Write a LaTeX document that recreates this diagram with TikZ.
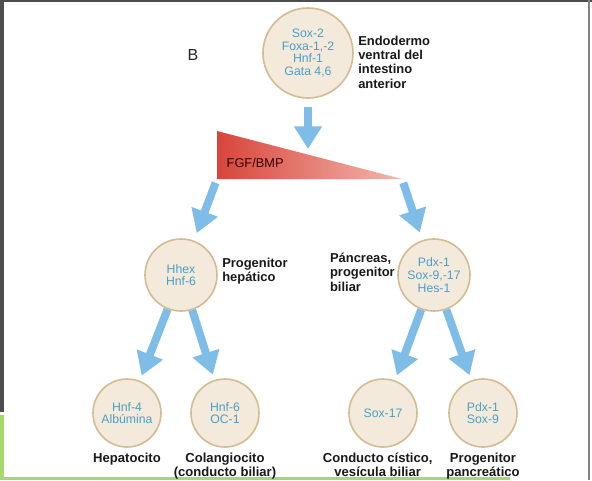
\documentclass[tikz,border=0pt]{standalone}
\usepackage{fontspec}
\setmainfont{Liberation Sans}
\usetikzlibrary{arrows.meta,positioning}
\definecolor{cellfill}{HTML}{F4EADB}
\definecolor{celledge}{HTML}{D3BB92}
\definecolor{genetext}{HTML}{4A9FC8}
\definecolor{arrowblue}{HTML}{7DBDE8}
\definecolor{gradred}{HTML}{D8453B}
\definecolor{gradpink}{HTML}{F3B8AE}
\definecolor{framegray}{HTML}{4E4E4E}
\definecolor{framegreen}{HTML}{A6D86A}
\begin{document}
\begin{tikzpicture}[x=0.75pt,y=-0.75pt,
    cell/.style={circle,draw=celledge,fill=cellfill,line width=1.2pt,inner sep=0pt,
      align=center,text=genetext,font=\fontsize{9.2}{9.5}\selectfont},
    stage/.style={align=left,inner sep=0pt,text=black!90,font=\bfseries\fontsize{9.7}{10.8}\selectfont},
    fate/.style={align=center,inner sep=0pt,text=black!90,font=\bfseries\fontsize{9.8}{10.4}\selectfont},
    flow/.style={draw=arrowblue,line width=6pt,-{Triangle[length=17pt,width=20pt]}}]
  \useasboundingbox (0,0) rectangle (592,480);
  \fill[white] (0,0) rectangle (592,480);
  %% Screen edges
  \fill[framegray] (0,0) rectangle (4,412);
  \fill[framegray] (0,0) rectangle (592,2);
  \fill[framegray!70] (588,0) rectangle (590,480);
  \fill[framegreen] (0,415) rectangle (4,480);
  \fill[framegreen] (0,477) rectangle (510,480);

  %% Cells
  \node[cell,minimum size=67.5pt] (endo) at (308,53) {Sox-2\\Foxa-1,-2\\Hnf-1\\Gata 4,6};
  \node[cell,minimum size=54pt] (hep) at (181,275) {Hhex\\Hnf-6};
  \node[cell,minimum size=54pt] (panc) at (434,275) {Pdx-1\\Sox-9,-17\\Hes-1};
  \node[cell,minimum size=51pt] (hepa) at (127,413) {Hnf-4\\Albúmina};
  \node[cell,minimum size=51pt] (chol) at (225,413) {Hnf-6\\OC-1};
  \node[cell,minimum size=51pt] (cyst) at (383,413) {Sox-17};
  \node[cell,minimum size=51pt] (pprog) at (483,413) {Pdx-1\\Sox-9};

  %% Labels
  \node[text=black!85,font=\fontsize{12}{14}\selectfont] (panel) at (193,55) {B};
  \node[stage,anchor=west] (endolbl) at (358,62) {Endodermo\\ventral del\\intestino\\anterior};
  \node[stage,anchor=west] (heplbl) at (222,271) {Progenitor\\hepático};
  \node[stage,anchor=east] (panclbl) at (395,272) {Páncreas,\\progenitor\\biliar};
  \node[fate,below=4pt of hepa] (hepalbl) {Hepatocito};
  \node[fate,below=4pt of chol] (chollbl) {Colangiocito\\(conducto biliar)};
  \node[fate,below=4pt of cyst,xshift=-4pt] (cystlbl) {Conducto cístico,\\vesícula biliar};
  \node[fate,below=4pt of pprog] (pproglbl) {Progenitor\\pancreático};

  %% Gradient
  \coordinate (gtl) at (217,131);
  \coordinate (gbl) at (217,179);
  \coordinate (gbr) at (402,179);
  \coordinate (gtip) at (308,149);
  \shade[left color=gradred,right color=gradpink] (gtl) -- (gbl) -- (gbr) -- cycle;
  \node[anchor=west,text=black!80!red,font=\fontsize{9.6}{11}\selectfont] (fgf) at (222,163) {FGF/BMP};

  %% Vectors
  \draw[flow,shorten <=6pt] (endo) -- (gtip);
  \draw[flow,shorten <=3pt,shorten >=6pt] (gbl) -- (hep);
  \draw[flow,shorten <=3pt,shorten >=6pt] (gbr) -- (panc);
  \draw[flow,shorten >=4pt] (hep) -- (hepa);
  \draw[flow,shorten >=4pt] (hep) -- (chol);
  \draw[flow,shorten >=4pt] (panc) -- (cyst);
  \draw[flow,shorten >=4pt] (panc) -- (pprog);
\end{tikzpicture}
\end{document}
